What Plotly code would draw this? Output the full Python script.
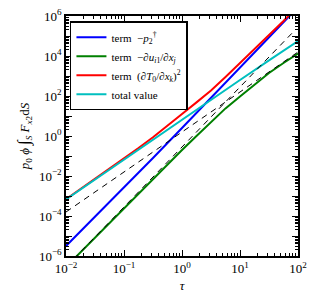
import plotly.graph_objects as go

# readings: log10(tau) and log10(value)
blue_logtau = [-2.0, -1.5, -1.0, -0.5, 0.0, 0.5, 0.74, 1.0, 1.25, 1.5, 1.75, 1.87]
blue_logy   = [-5.5, -4.05, -2.58, -1.1, 0.4, 1.92, 2.65, 3.42, 4.18, 4.95, 5.68, 6.05]

green_logtau = [-1.83, -1.5, -1.0, -0.5, 0.0, 0.25, 0.5, 0.75, 1.0, 1.25, 1.5, 1.75, 2.0]
green_logy   = [-6.05, -5.08, -3.6, -2.13, -0.7, 0.0, 0.7, 1.38, 1.98, 2.58, 3.15, 3.65, 4.12]

red_logtau = [-2.0, -1.5, -1.0, -0.75, -0.5, -0.25, 0.0, 0.25, 0.5, 0.75, 1.0, 1.25, 1.5, 1.75, 1.84]
red_logy   = [-3.16, -2.15, -1.13, -0.6, -0.06, 0.5, 1.1, 1.68, 2.28, 2.95, 3.64, 4.33, 5.03, 5.75, 6.02]

cyan_logtau = [-2.0, -1.5, -1.0, -0.5, 0.0, 0.5, 1.0, 1.5, 2.0]
cyan_logy   = [-3.17, -2.17, -1.17, -0.18, 0.8, 1.8, 2.8, 3.78, 4.75]

# reference power laws (dashed)
ref2_logtau = [-2.0, 2.0]
ref2_logy   = [-3.8, 4.2]
ref3_logtau = [-2.0, 1.95]
ref3_logy   = [-6.55, 5.3]

labels = ["term  \u2212<i>p</i><sub>2</sub><sup>\u2020</sup>",
          "term  \u2212\u2202<i>u</i><sub><i>i</i>1</sub>/\u2202<i>x</i><sub><i>j</i></sub>",
          "term  (\u2202<i>T</i><sub>0</sub>/\u2202<i>x</i><sub><i>k</i></sub>)<sup>2</sup>",
          "total value"]
colors = ["#0000ff", "#008000", "#ff0000", "#00bfbf"]

def p(v):
    return [10 ** a for a in v]

fig = go.Figure()
series = [(blue_logtau, blue_logy), (green_logtau, green_logy),
          (red_logtau, red_logy), (cyan_logtau, cyan_logy)]
for (lt, ly), lab, c in zip(series, labels, colors):
    fig.add_trace(go.Scatter(x=p(lt), y=p(ly), mode="lines", name=lab,
                             line=dict(color=c, width=2)))
for lt, ly in [(ref2_logtau, ref2_logy), (ref3_logtau, ref3_logy)]:
    fig.add_trace(go.Scatter(x=p(lt), y=p(ly), mode="lines", showlegend=False,
                             line=dict(color="black", width=1, dash="6px,5px")))

FAM = "'Liberation Serif', 'DejaVu Serif', serif"
font = dict(family=FAM, size=13, color="black")
xt = [-2, -1, 0, 1, 2]
yt = list(range(-6, 7))
fig.update_layout(
    width=318, height=303,
    margin=dict(l=66, r=20, t=16, b=47),
    paper_bgcolor="white", plot_bgcolor="white",
    font=font,
    showlegend=True,
    legend=dict(x=0.017, y=0.978, xanchor="left", yanchor="top",
                bgcolor="white", bordercolor="black", borderwidth=1.5,
                font=dict(family=FAM, size=11, color="black"),
                tracegroupgap=0, itemwidth=30),
    xaxis=dict(type="log", range=[-2, 2], showgrid=False, zeroline=False, automargin=False,
               showline=True, linecolor="black", linewidth=1.5, mirror="ticks",
               ticks="inside", ticklen=6, tickwidth=1, tickcolor="black",
               tickvals=[10 ** v for v in xt],
               ticktext=["10<sup>%s</sup>" % (str(v).replace("-", "\u2212")) for v in xt],
               minor=dict(ticks="inside", ticklen=3, tickcolor="black", dtick="D1", showgrid=False),
               title=dict(text="<i>\u03c4</i>", standoff=6, font=font)),
    yaxis=dict(type="log", range=[-6, 6], showgrid=False, zeroline=False, automargin=False,
               showline=True, linecolor="black", linewidth=1.5, mirror="ticks",
               ticks="inside", ticklen=6, tickwidth=1, tickcolor="black",
               tickvals=[10 ** v for v in yt],
               ticktext=[("10<sup>%s</sup>" % (str(v).replace("-", "\u2212"))) if v % 2 == 0 else "" for v in yt],
               minor=dict(ticks="inside", ticklen=3, tickcolor="black", dtick="D1", showgrid=False),
               title=dict(text="<i>p</i><sub>0</sub> <i>\u03d5</i> <span style='font-size:17px'>\u222b</span><sub><i>S</i></sub> <i>F</i><sub><i>x</i>2</sub>d<i>S</i>",
                          standoff=6, font=font)),
)
fig.write_html("out.html", config={"displayModeBar": False},
               post_script="document.body.style.margin='0';")
